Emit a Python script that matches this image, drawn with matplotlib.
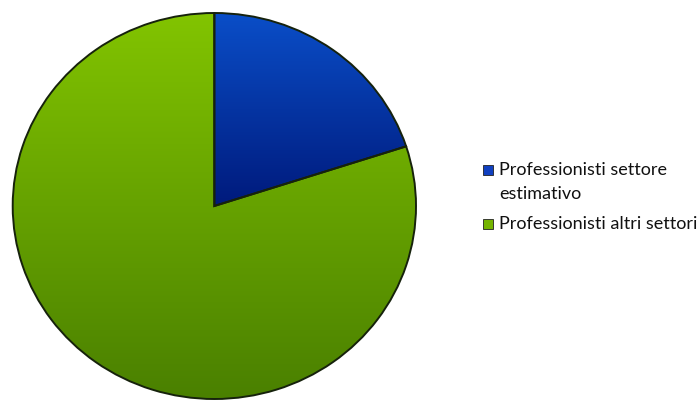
import numpy as np
import matplotlib.pyplot as plt
from matplotlib.colors import LinearSegmentedColormap

labels = ["Professionisti settore\nestimativo", "Professionisti altri settori"]
values = [20, 80]
top_colors = ["#0a4ec8", "#82c400"]
bottom_colors = ["#001a7c", "#4a8000"]
legend_colors = ["#1040c0", "#74b400"]

W, H = 697, 401
fig = plt.figure(figsize=(W / 100, H / 100), dpi=100)

# the pie is a little squashed in the original, so give it its own box
left, right, top, bottom = 12.7, 416, 13, 399
ax = fig.add_axes([left / W, 1 - bottom / H, (right - left) / W, (bottom - top) / H])

wedges, _ = ax.pie(values, startangle=90, counterclock=False,
                   colors=top_colors, radius=1,
                   wedgeprops=dict(edgecolor="#16220c", linewidth=1.4, clip_on=False))

# vertical gradient per wedge (bounding box of each slice)
grad = np.linspace(1, 0, 256).reshape(-1, 1)
for w, c_top, c_bot in zip(wedges, top_colors, bottom_colors):
    verts = w.get_path().vertices
    y0, y1 = verts[:, 1].min(), verts[:, 1].max()
    cmap = LinearSegmentedColormap.from_list("g", [c_bot, c_top])
    im = ax.imshow(grad, cmap=cmap, aspect="auto", extent=[-1, 1, y0, y1], zorder=1.5)
    im.set_clip_path(w)
    w.set_zorder(3)
    w.set_facecolor("none")

ax.set_xlim(-1, 1)
ax.set_ylim(-1, 1)
ax.set_aspect("auto")
ax.axis("off")

# legend drawn by hand so the marker sits on the first line of a wrapped label
entry_y = [170, 224]
for lab, col, y in zip(labels, legend_colors, entry_y):
    fig.patches.append(plt.Rectangle((483 / W, 1 - (y + 5) / H), 10 / W, 10 / H,
                                     transform=fig.transFigure, facecolor=col,
                                     edgecolor="#222222", linewidth=0.6))
    for i, line in enumerate(lab.split("\n")):
        fig.text(499 / W, 1 - (y + i * 24) / H, line, ha="left", va="center",
                 fontsize=13, family="Lato", color="#111111")

fig.savefig("out.png", dpi=100)
